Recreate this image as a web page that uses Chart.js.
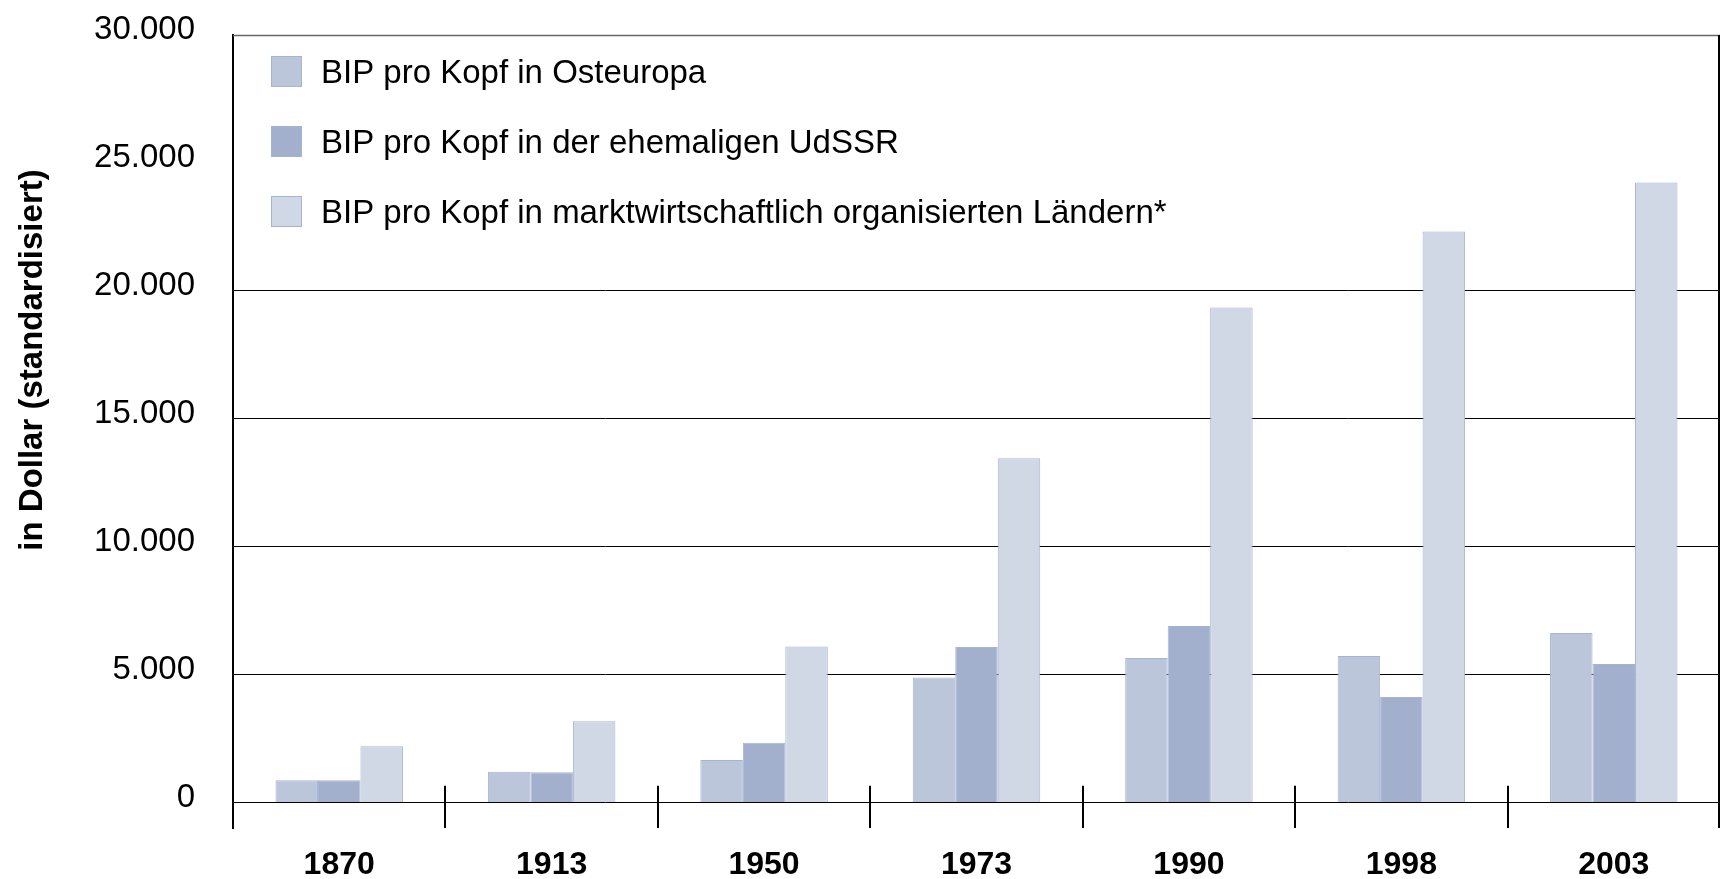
<!DOCTYPE html>
<html>
<head>
<meta charset="utf-8">
<script src="https://cdn.jsdelivr.net/npm/chart.js"></script>
<style>
  html, body { margin: 0; padding: 0; background: #fff; }
  #wrap { width: 1723px; height: 879px; }
</style>
</head>
<body>
<div id="wrap"><canvas id="gdp-chart"></canvas></div>
<script>
const years = ['1870', '1913', '1950', '1973', '1990', '1998', '2003'];
const osteuropa = [870, 1200, 1660, 4880, 5650, 5720, 6620];
const udssr = [870, 1180, 2330, 6080, 6900, 4120, 5410];
const marktwirtschaft = [2200, 3170, 6100, 13450, 19350, 22320, 24230];
const yTicks = [0, 5000, 10000, 15000, 20000, 25000, 30000];
const seriesNames = [
  'BIP pro Kopf in Osteuropa',
  'BIP pro Kopf in der ehemaligen UdSSR',
  'BIP pro Kopf in marktwirtschaftlich organisierten Ländern*'
];
const yTitle = 'in Dollar (standardisiert)';

const FONT = '"Liberation Sans", Arial, sans-serif';
const fills = ['#bcc6da', '#a2b0ce', '#d0d8e6'];
const edge = '#a6b4d3';

function fmt(v) {
  return String(v).replace(/\B(?=(\d{3})+(?!\d))/g, '.');
}

function line(ctx, x1, y1, x2, y2) {
  ctx.beginPath();
  ctx.moveTo(x1, y1);
  ctx.lineTo(x2, y2);
  ctx.stroke();
}

// frame, group separators, legend and axis title
const extras = {
  id: 'extras',
  afterDraw(chart) {
    const {ctx, chartArea: a, scales: {x, y}} = chart;
    ctx.save();
    ctx.strokeStyle = '#666';
    ctx.lineWidth = 1.5;
    line(ctx, a.left, a.top + 0.5, a.right, a.top + 0.5);
    ctx.strokeStyle = '#000';
    ctx.lineWidth = 2;
    line(ctx, a.right - 1, a.top, a.right - 1, a.bottom);
    for (let i = 1; i < years.length; i++) {
      const xp = Math.round((x.getPixelForTick(i - 1) + x.getPixelForTick(i)) / 2);
      line(ctx, xp, y.getPixelForValue(650), xp, a.bottom);
    }

    // legend
    ctx.font = '33px ' + FONT;
    ctx.textBaseline = 'middle';
    ctx.textAlign = 'left';
    chart.data.datasets.forEach((ds, i) => {
      const bx = a.left + 38, by = a.top + 21 + i * 70;
      ctx.fillStyle = ds.backgroundColor;
      ctx.fillRect(bx, by, 31, 31);
      ctx.strokeStyle = ds.borderColor;
      ctx.lineWidth = 1;
      ctx.strokeRect(bx + 0.5, by + 0.5, 30, 30);
      ctx.fillStyle = '#000';
      ctx.fillText(ds.label, bx + 50, by + 18);
    });

    // y title
    ctx.translate(33, 360);
    ctx.rotate(-Math.PI / 2);
    ctx.font = 'bold 33px ' + FONT;
    ctx.textAlign = 'center';
    ctx.fillText(yTitle, 0, 0);
    ctx.restore();
  }
};

new Chart(document.getElementById('gdp-chart'), {
  type: 'bar',
  data: {
    labels: years,
    datasets: [
      {label: seriesNames[0], data: osteuropa, backgroundColor: fills[0], borderColor: edge, borderWidth: 1},
      {label: seriesNames[1], data: udssr, backgroundColor: fills[1], borderColor: edge, borderWidth: 1},
      {label: seriesNames[2], data: marktwirtschaft, backgroundColor: fills[2], borderColor: edge, borderWidth: 1}
    ]
  },
  options: {
    responsive: true,
    maintainAspectRatio: false,
    animation: false,
    layout: {padding: {top: 35, right: 3, bottom: 0, left: 0}},
    datasets: {bar: {categoryPercentage: 0.6, barPercentage: 1.0}},
    plugins: {
      legend: {display: false},
      tooltip: {enabled: false}
    },
    scales: {
      x: {
        grid: {display: false, drawTicks: false},
        border: {display: false},
        ticks: {color: '#000', padding: 18, font: {family: FONT, size: 32, weight: 'bold'}},
        afterFit(scale) { scale.height = 51; }
      },
      y: {
        min: -1000,
        max: 30000,
        afterBuildTicks(scale) { scale.ticks = yTicks.map(v => ({value: v})); },
        grid: {
          drawTicks: false,
          lineWidth: 1,
          color: c => (c.tick && c.tick.value <= 20000 ? '#000' : 'rgba(0,0,0,0)')
        },
        border: {display: true, color: '#000', width: 2},
        ticks: {
          color: '#000',
          padding: 38,
          labelOffset: -5,
          font: {family: FONT, size: 33},
          callback: v => fmt(v)
        },
        afterFit(scale) {
          scale.width = 233;
          scale.paddingTop = 0;
          scale.paddingBottom = 0;
        }
      }
    }
  },
  plugins: [extras]
});
</script>
</body>
</html>
